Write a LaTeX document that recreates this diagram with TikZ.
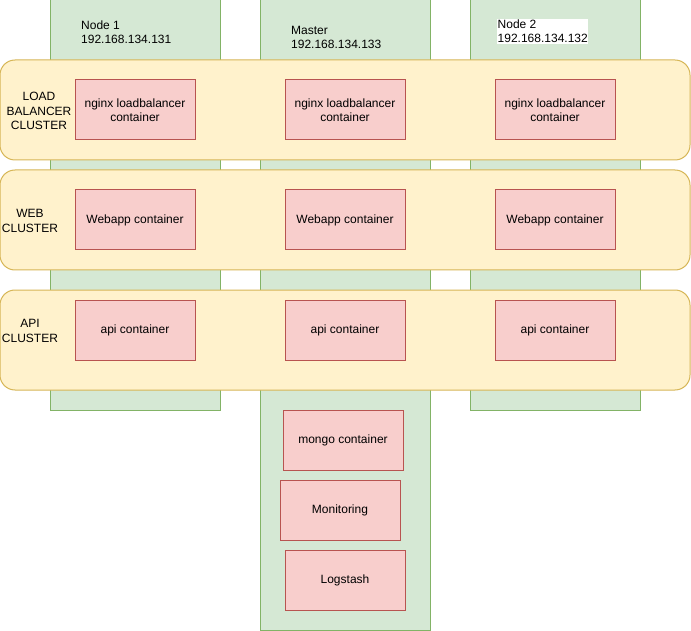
\documentclass[tikz,border=0pt]{standalone}
\usepackage{fontspec}
\setmainfont{Liberation Sans}
\begin{document}
\begin{tikzpicture}[x=1pt,y=-1pt,
  font=\fontsize{12}{14}\selectfont,
  column/.style={draw=colGreenLine,fill=colGreen,line width=1pt},
  band/.style={draw=colYellowLine,fill=colYellow,line width=1pt,rounded corners=15pt},
  box/.style={draw=colRedLine,fill=colRed,line width=1pt,align=center,inner sep=0pt,
    minimum width=120pt,minimum height=60pt,
    execute at begin node={\vspace*{2pt}}},
  lbl/.style={align=left,anchor=north west,inner sep=0pt,font=\fontsize{12}{14.5}\selectfont},
  clbl/.style={align=center,inner sep=0pt,font=\fontsize{12}{14.5}\selectfont}]
\definecolor{colGreen}{HTML}{D5E8D4}
\definecolor{colGreenLine}{HTML}{82B366}
\definecolor{colYellow}{HTML}{FFF2CC}
\definecolor{colYellowLine}{HTML}{D6B656}
\definecolor{colRed}{HTML}{F8CECC}
\definecolor{colRedLine}{HTML}{B85450}
\useasboundingbox (0,0) rectangle (691,631);

% host columns
\draw[column] (50,0) rectangle (220,410);
\draw[column] (260,0) rectangle (430,630);
\draw[column] (470,0) rectangle (640,410);

% host labels
\node[lbl] (n1lbl) at (81,20.5) {Node 1\\192.168.134.131};
\node[lbl] (mlbl) at (291,26) {Master\\192.168.134.133};
\node[lbl,fill=white,inner sep=0.5pt] (n2lbl) at (497,19) {Node 2\\192.168.134.132};

% cluster bands
\draw[band] (0,60) rectangle (690,160);
\draw[band] (0,170) rectangle (690,270);
\draw[band] (0,290) rectangle (690,390);

\node[clbl] (lbc) at (39,111) {LOAD\\BALANCER\\CLUSTER};
\node[clbl] (wc) at (30,221) {WEB\\CLUSTER};
\node[clbl] (ac) at (30,331) {API\\CLUSTER};

% load balancer containers
\node[box] (lb1) at (135,110) {nginx loadbalancer\\container};
\node[box] (lb2) at (345,110) {nginx loadbalancer\\container};
\node[box] (lb3) at (555,110) {nginx loadbalancer\\container};

% webapp containers
\node[box] (web1) at (135,220) {Webapp container};
\node[box] (web2) at (345,220) {Webapp container};
\node[box] (web3) at (555,220) {Webapp container};

% api containers
\node[box] (api1) at (135,330) {api container};
\node[box] (api2) at (345,330) {api container};
\node[box] (api3) at (555,330) {api container};

% master-only services
\node[box] (mongo) at (343,440) {mongo container};
\node[box] (mon) at (340,510) {Monitoring};
\node[box] (logs) at (345,580) {Logstash};
\end{tikzpicture}
\end{document}
